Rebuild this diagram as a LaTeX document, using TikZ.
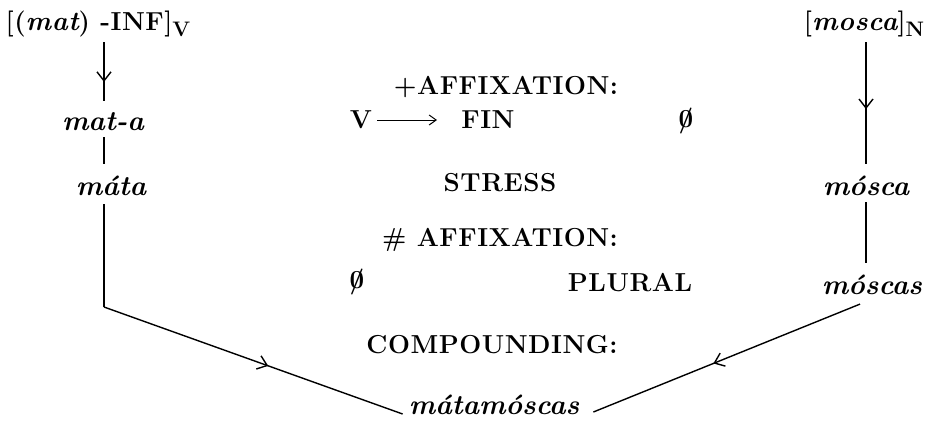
\documentclass[tikz,border=0pt]{standalone}
\usepackage{fontspec}
\setmainfont{Latin Modern Roman}
\usetikzlibrary{arrows.meta,decorations.markings}
\newcommand{\nullset}{\ooalign{0\cr\hidewidth\raisebox{0pt}{/}\hidewidth\cr}}
\begin{document}
\begin{tikzpicture}[x=1pt,y=-1pt,
  captxt/.style={font=\fontsize{26}{30}\selectfont\bfseries\addfontfeature{LetterSpace=2}, inner sep=0pt},
  itltxt/.style={font=\fontsize{28}{32}\selectfont\bfseries\itshape, inner sep=0pt},
  ln/.style={line width=1.4pt},
  midarrow/.style={postaction={decorate},decoration={markings,mark=at position #1 with {\arrow[line width=1.4pt]{Straight Barb[length=9pt,width=14pt]}}}},
  midarrow/.default=0.5
]
\useasboundingbox (0,0) rectangle (931,424);
% left column
\node[captxt] (top1) at (98,24) {[({\fontsize{27}{30}\selectfont\itshape mat}) -INF]\raisebox{-6pt}{\fontsize{21}{23}\selectfont V}};
\node[itltxt] (matA) at (103,122) {mat-a};
\node[itltxt] (mata) at (111,186) {máta};
\coordinate (lc) at (104,307);
% right column
\node[captxt] (top2) at (864,24) {[{\fontsize{27}{30}\selectfont\itshape mosca}]\raisebox{-6pt}{\fontsize{21}{23}\selectfont N}};
\node[itltxt] (mosca) at (866,186) {mósca};
\node[itltxt] (moscas) at (872,285) {móscas};
% centre
\node[captxt] (aff1) at (506,87) {+AFFIXATION:};
\node[captxt] (V) at (361,120) {V};
\coordinate (vend) at (437,120);
\node[captxt] (FIN) at (488,120) {FIN};
\node[captxt] (null1) at (686,122) {\nullset};
\node[captxt] (stress) at (500,183) {STRESS};
\node[captxt] (aff2) at (500,240) {\# AFFIXATION:};
\node[captxt] (null2) at (357,283) {\nullset};
\node[captxt] (plural) at (630,283) {PLURAL};
\node[captxt] (comp) at (492,345) {COMPOUNDING:};
\node[itltxt] (compound) at (494,405) {mátamóscas};
% connectors
\draw[ln,midarrow=0.68] ([yshift=-5pt]top1.south -| lc) -- ([yshift=12pt]matA.north -| lc);
\draw[ln] ([yshift=-6pt]matA.south -| lc) -- ([yshift=12pt]mata.north -| lc);
\draw[ln] ([yshift=-8pt]mata.south -| lc) -- (lc);
\draw[ln,midarrow=0.55] (lc) -- ([xshift=-6pt,yshift=-9pt]compound.west);
\draw[ln,midarrow=0.55] ([yshift=-5pt]top2.south -| mosca) -- ([yshift=12pt]mosca.north);
\draw[ln] ([yshift=-6pt]mosca.south) -- ([yshift=12pt]moscas.north -| mosca.north);
\draw[ln,midarrow=0.55] ([xshift=-12pt,yshift=-9pt]moscas.south) -- ([xshift=14pt,yshift=-7pt]compound.east);
\draw[line width=1pt,-{Straight Barb[length=7pt,width=10pt]}] ([xshift=5pt]V.east) -- (vend);
\end{tikzpicture}
\end{document}
